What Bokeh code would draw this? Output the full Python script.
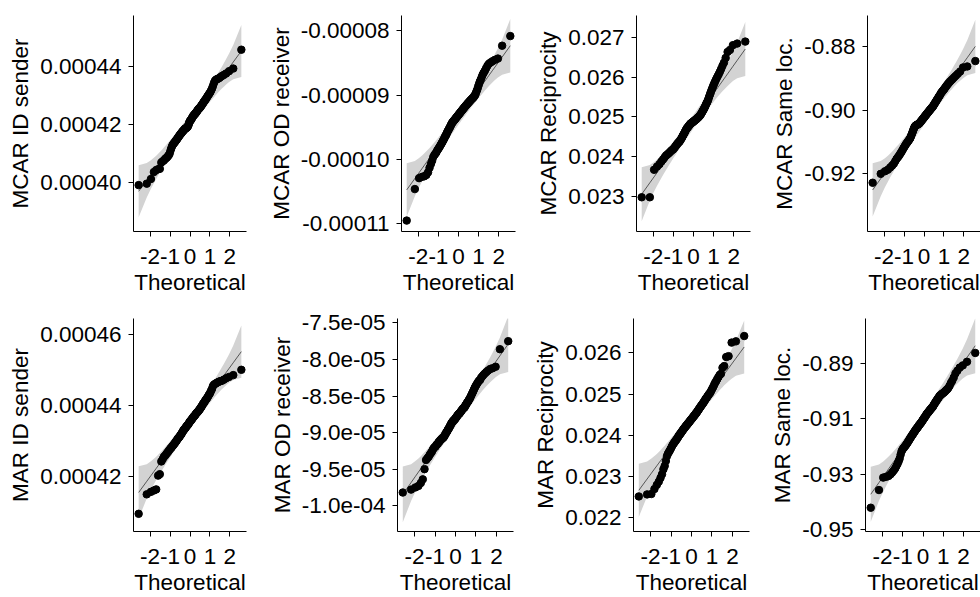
from statistics import NormalDist
import numpy as np
from bokeh.plotting import figure
from bokeh.layouts import row, column
from bokeh.models import Range1d, FixedTicker, CustomJSTickFormatter
from bokeh.embed import file_html
from bokeh.resources import INLINE

# ---------------- data (sorted sample values) ----------------
# MCAR ID sender, units of 1e-6
mcar_id_sender = [
    399.0, 399.5, 401.1, 403.5, 404.2, 404.5, 404.6, 406.8, 407.2, 407.5,
    408.0, 408.3, 408.6, 409.0, 409.4, 410.0, 411.0, 411.8, 412.5, 413.0,
    413.3, 413.6, 413.9, 414.2, 414.5, 414.8, 415.1, 415.4, 415.7, 416.0,
    416.3, 416.5, 416.8, 417.0, 417.3, 417.5, 417.7, 417.9, 418.1, 418.3,
    418.5, 418.6, 418.7, 418.8, 419.0, 419.2, 419.5, 420.0, 420.6, 421.0,
    421.2, 421.4, 421.7, 422.0, 422.3, 422.6, 422.9, 423.1, 423.3, 423.5,
    423.7, 423.9, 424.2, 424.4, 424.7, 425.0, 425.2, 425.4, 425.6, 425.8,
    426.1, 426.4, 426.7, 427.0, 427.3, 427.7, 428.0, 428.3, 428.6, 429.0,
    429.4, 429.8, 430.2, 430.6, 431.0, 431.6, 432.3, 433.2, 434.2, 435.0,
    435.4, 435.6, 435.8, 436.2, 436.6, 437.0, 437.5, 438.3, 439.2, 445.7]
# MCAR OD receiver, units of 1e-6
mcar_od_receiver = [
    -109.5, -104.6, -102.9, -102.7, -102.6, -102.4, -102.0, -101.3, -100.7, -100.2,
    -99.6, -99.3, -99.1, -98.9, -98.6, -98.4, -98.2, -98.0, -97.8, -97.6,
    -97.4, -97.2, -97.0, -96.8, -96.6, -96.4, -96.2, -96.1, -95.8, -95.6,
    -95.5, -95.3, -95.1, -95.0, -94.8, -94.6, -94.5, -94.3, -94.2, -94.1,
    -94.0, -93.9, -93.8, -93.7, -93.6, -93.5, -93.4, -93.3, -93.2, -93.1,
    -93.0, -92.9, -92.8, -92.7, -92.6, -92.5, -92.4, -92.3, -92.2, -92.1,
    -92.0, -91.9, -91.8, -91.7, -91.6, -91.5, -91.4, -91.3, -91.2, -91.1,
    -91.0, -90.9, -90.8, -90.7, -90.6, -90.5, -90.4, -90.3, -90.1, -90.0,
    -89.7, -89.4, -89.1, -88.7, -88.3, -87.9, -87.6, -87.2, -86.8, -86.5,
    -86.2, -85.8, -85.4, -85.1, -84.9, -84.7, -84.5, -84.3, -82.3, -80.8]
# MCAR Reciprocity, units of 1e-4
mcar_reciprocity = [
    229.8, 229.8, 236.7, 237.5, 238.1, 238.75, 239.3, 239.8, 240.25, 240.5,
    240.75, 241.0, 241.25, 241.5, 241.7, 241.8, 242.1, 242.3, 242.6, 242.8,
    243.1, 243.3, 243.5, 243.7, 243.8, 244.1, 244.3, 244.6, 244.8, 245.2,
    245.4, 245.7, 245.9, 246.2, 246.5, 246.75, 247.0, 247.2, 247.3, 247.5,
    247.7, 247.8, 248.0, 248.2, 248.3, 248.4, 248.5, 248.6, 248.7, 248.75,
    248.9, 249.0, 249.1, 249.2, 249.3, 249.4, 249.5, 249.7, 249.75, 249.9,
    250.0, 250.2, 250.3, 250.5, 250.7, 250.9, 251.2, 251.4, 251.7, 251.9,
    252.2, 252.5, 252.8, 253.2, 253.5, 253.8, 254.2, 254.7, 255.2, 255.7,
    256.2, 256.7, 257.2, 257.7, 258.2, 258.7, 259.2, 259.7, 260.2, 260.7,
    261.3, 262.0, 262.8, 263.6, 264.8, 266.3, 266.8, 268.0, 268.4, 268.9]
# MCAR Same loc., units of 1e-3
mcar_same_loc = [
    -922.8, -920.0, -919.2, -918.7, -918.0, -917.4, -916.8, -916.0, -915.3, -914.8,
    -914.3, -913.8, -913.3, -912.8, -912.3, -911.8, -911.4, -911.0, -910.6, -910.3,
    -910.0, -909.7, -909.4, -909.1, -908.8, -908.3, -907.8, -907.3, -906.8, -906.3,
    -905.8, -905.4, -905.1, -904.9, -904.8, -904.7, -904.6, -904.5, -904.4, -904.3,
    -904.2, -904.0, -903.8, -903.6, -903.4, -903.2, -903.0, -902.8, -902.6, -902.4,
    -902.2, -902.0, -901.8, -901.6, -901.4, -901.2, -901.0, -900.8, -900.6, -900.4,
    -900.2, -900.0, -899.8, -899.6, -899.4, -899.2, -899.0, -898.8, -898.5, -898.2,
    -897.9, -897.6, -897.3, -897.0, -896.7, -896.4, -896.0, -895.7, -895.4, -895.0,
    -894.6, -894.3, -894.0, -893.7, -893.4, -893.0, -892.6, -892.2, -891.8, -891.4,
    -891.0, -890.6, -890.2, -889.7, -889.2, -888.6, -887.9, -886.6, -886.3, -884.6]
# MAR ID sender, units of 1e-6
mar_id_sender = [
    409.4, 414.9, 415.6, 416.0, 416.3, 420.2, 420.6, 424.2, 424.8, 425.5,
    425.8, 426.2, 426.6, 426.9, 427.3, 427.6, 427.9, 428.1, 428.4, 428.7,
    428.9, 429.2, 429.4, 429.7, 429.9, 430.2, 430.5, 430.7, 430.9, 431.1,
    431.3, 431.6, 431.8, 432.0, 432.3, 432.6, 432.8, 433.1, 433.2, 433.4,
    433.6, 433.8, 434.0, 434.2, 434.4, 434.5, 434.7, 434.9, 435.2, 435.4,
    435.6, 435.7, 435.9, 436.1, 436.3, 436.5, 436.7, 436.9, 437.0, 437.2,
    437.4, 437.6, 437.8, 438.0, 438.1, 438.3, 438.5, 438.7, 438.9, 439.1,
    439.4, 439.6, 439.9, 440.2, 440.5, 440.7, 441.0, 441.3, 441.6, 441.9,
    442.1, 442.5, 442.9, 443.2, 443.6, 444.2, 444.7, 445.5, 445.9, 446.1,
    446.3, 446.5, 446.7, 446.9, 447.0, 447.3, 447.7, 448.1, 448.6, 450.1]
# MAR OD receiver, units of 1e-6
mar_od_receiver = [
    -98.2, -97.8, -97.5, -97.3, -96.9, -96.4, -95.0, -93.75, -93.5, -93.3,
    -93.0, -92.8, -92.6, -92.3, -92.1, -92.0, -91.9, -91.7, -91.6, -91.5,
    -91.3, -91.25, -91.1, -91.0, -90.9, -90.85, -90.75, -90.7, -90.6, -90.45,
    -90.3, -90.2, -90.0, -89.9, -89.8, -89.6, -89.5, -89.4, -89.2, -89.1,
    -89.0, -88.8, -88.7, -88.6, -88.5, -88.4, -88.35, -88.25, -88.2, -88.1,
    -88.0, -87.9, -87.8, -87.7, -87.6, -87.5, -87.45, -87.4, -87.3, -87.2,
    -87.1, -87.0, -86.9, -86.8, -86.7, -86.65, -86.6, -86.5, -86.3, -86.2,
    -86.1, -85.9, -85.8, -85.7, -85.5, -85.4, -85.2, -85.0, -84.8, -84.6,
    -84.4, -84.15, -83.9, -83.7, -83.5, -83.3, -83.1, -82.9, -82.8, -82.5,
    -82.3, -82.1, -81.9, -81.7, -81.5, -81.3, -81.2, -81.0, -78.6, -77.5]
# MAR Reciprocity, units of 1e-4
mar_reciprocity = [
    225.1, 225.6, 225.7, 226.9, 227.9, 228.7, 229.6, 230.5, 231.7, 232.5,
    233.7, 234.9, 235.5, 235.9, 236.3, 236.7, 237.1, 237.5, 237.8, 238.1,
    238.3, 238.6, 238.8, 239.0, 239.3, 239.5, 239.8, 240.0, 240.2, 240.4,
    240.6, 240.8, 241.0, 241.2, 241.4, 241.6, 241.75, 241.9, 242.1, 242.25,
    242.4, 242.55, 242.7, 242.9, 243.0, 243.2, 243.35, 243.5, 243.7, 243.8,
    244.0, 244.1, 244.3, 244.5, 244.6, 244.8, 244.9, 245.1, 245.3, 245.4,
    245.6, 245.8, 246.0, 246.2, 246.4, 246.6, 246.8, 247.0, 247.2, 247.4,
    247.6, 247.8, 248.0, 248.3, 248.5, 248.8, 249.0, 249.2, 249.5, 249.7,
    250.0, 250.2, 250.5, 250.9, 251.3, 251.7, 252.2, 252.7, 253.1, 253.6,
    254.1, 254.6, 254.9, 256.4, 256.8, 259.0, 259.2, 262.5, 262.8, 264.1]
# MAR Same loc., units of 1e-3
mar_same_loc = [
    -942.2, -935.8, -931.3, -931.0, -930.7, -930.1, -929.4, -928.7, -928.0, -927.1,
    -926.3, -925.4, -924.4, -923.0, -921.8, -921.2, -920.7, -920.4, -920.0, -919.7,
    -919.3, -918.9, -918.6, -918.1, -917.8, -917.4, -917.0, -916.7, -916.3, -916.0,
    -915.7, -915.4, -915.0, -914.8, -914.4, -914.2, -913.8, -913.6, -913.4, -913.1,
    -912.9, -912.5, -912.3, -912.1, -911.8, -911.6, -911.4, -911.1, -910.8, -910.5,
    -910.3, -909.9, -909.7, -909.5, -909.1, -908.9, -908.5, -908.3, -908.0, -907.8,
    -907.6, -907.3, -907.1, -906.8, -906.6, -906.4, -906.1, -905.9, -905.7, -905.3,
    -904.9, -904.6, -904.2, -903.9, -903.5, -903.2, -902.8, -902.5, -902.1, -901.7,
    -901.5, -901.3, -901.0, -900.8, -900.6, -900.3, -900.0, -899.6, -899.3, -898.8,
    -898.1, -897.1, -896.3, -895.1, -893.6, -892.6, -891.5, -890.7, -889.4, -886.2]

y_labels = ["MCAR ID sender", "MCAR OD receiver", "MCAR Reciprocity", "MCAR Same loc.",
            "MAR ID sender", "MAR OD receiver", "MAR Reciprocity", "MAR Same loc."]
series = [mcar_id_sender, mcar_od_receiver, mcar_reciprocity, mcar_same_loc,
          mar_id_sender, mar_od_receiver, mar_reciprocity, mar_same_loc]
scales = [1e-6, 1e-6, 1e-4, 1e-3, 1e-6, 1e-6, 1e-4, 1e-3]

y_ticks = [
    [0.00040, 0.00042, 0.00044],
    [-0.00011, -0.00010, -0.00009, -0.00008],
    [0.023, 0.024, 0.025, 0.026, 0.027],
    [-0.92, -0.90, -0.88],
    [0.00042, 0.00044, 0.00046],
    [-1.0e-4, -9.5e-5, -9.0e-5, -8.5e-5, -8.0e-5, -7.5e-5],
    [0.022, 0.023, 0.024, 0.025, 0.026],
    [-0.95, -0.93, -0.91, -0.89],
]
y_tick_labels = [
    ["0.00040", "0.00042", "0.00044"],
    ["-0.00011", "-0.00010", "-0.00009", "-0.00008"],
    ["0.023", "0.024", "0.025", "0.026", "0.027"],
    ["-0.92", "-0.90", "-0.88"],
    ["0.00042", "0.00044", "0.00046"],
    ["-1.0e-04", "-9.5e-05", "-9.0e-05", "-8.5e-05", "-8.0e-05", "-7.5e-05"],
    ["0.022", "0.023", "0.024", "0.025", "0.026"],
    ["-0.95", "-0.93", "-0.91", "-0.89"],
]
y_ranges = [
    (0.000383, 0.0004575),
    (-0.0001112, -0.0000776),
    (0.02212, 0.027545),
    (-0.9381, -0.8703),
    (0.0004044, 0.0004646),
    (-1.0353e-4, -7.44e-5),
    (0.021658, 0.026836),
    (-0.9508, -0.87374),
]
x_ticks = [-2, -1, 0, 1, 2]
x_tick_labels = ["-2", "-1", "0", "1", "2"]
x_label = "Theoretical"

# ---------------- layout geometry (left border, frame width, right border) ----------------
row1_geom = [(133, 113, 12), (143, 114, 5), (116, 114, 3), (114, 113, 0)]
row2_geom = [(133, 113, 12), (139, 116, 7), (113, 116, 4), (112, 115, 0)]
row1_v = (15, 216, 69)
row2_v = (18, 216, 63)

FONT = "Liberation Sans"
FSIZE = "22.5px"
ND = NormalDist()

LOOKUP = """
let b = 0;
for (let i = 0; i < t.length; i++) {
    if (Math.abs(t[i] - tick) < Math.abs(t[b] - tick)) b = i;
}
return l[b];
"""


def qq_panel(k, geom, vgeom):
    left, fw, right = geom
    top, fh, bottom = vgeom
    y = np.sort(np.asarray(series[k], dtype=float) * scales[k])
    n = len(y)
    P = (np.arange(1, n + 1) - 0.5) / n
    z = np.array([ND.inv_cdf(p) for p in P])
    q1, q3 = np.quantile(y, [0.25, 0.75])
    z1, z3 = ND.inv_cdf(0.25), ND.inv_cdf(0.75)
    slope = (q3 - q1) / (z3 - z1)
    intercept = q1 - slope * z1
    fit = intercept + slope * z
    zz = ND.inv_cdf(0.975)
    se = slope / np.array([ND.pdf(v) for v in z]) * np.sqrt(P * (1 - P) / n)
    upper = fit + zz * se
    lower = fit - zz * se

    p = figure(width=left + fw + right, height=top + fh + bottom,
               x_range=Range1d(-2.834, 2.834), y_range=Range1d(*y_ranges[k]),
               output_backend="svg", toolbar_location=None, title=None,
               min_border_left=left, min_border_right=right,
               min_border_top=top, min_border_bottom=bottom)
    p.outline_line_color = None
    p.background_fill_color = "white"
    p.border_fill_color = "white"
    p.xgrid.visible = False
    p.ygrid.visible = False

    p.varea(x=z, y1=lower, y2=upper, fill_color="#d3d3d3", fill_alpha=1.0)
    p.line(z, fit, line_color="black", line_width=0.6)
    p.scatter(z, y, size=7.5, fill_color="black", line_color="black")

    p.xaxis.ticker = FixedTicker(ticks=x_ticks, minor_ticks=[])
    p.yaxis.ticker = FixedTicker(ticks=y_ticks[k], minor_ticks=[])
    p.xaxis.formatter = CustomJSTickFormatter(args=dict(t=x_ticks, l=x_tick_labels), code=LOOKUP)
    p.yaxis.formatter = CustomJSTickFormatter(args=dict(t=y_ticks[k], l=y_tick_labels[k]), code=LOOKUP)
    p.xaxis.axis_label = x_label
    p.yaxis.axis_label = y_labels[k]
    for ax in (p.xaxis[0], p.yaxis[0]):
        ax.axis_line_color = "black"
        ax.axis_line_width = 1
        ax.major_tick_line_color = "black"
        ax.major_tick_line_width = 1
        ax.major_tick_out = 5
        ax.major_tick_in = 0
        ax.minor_tick_line_color = None
        ax.major_label_text_font = FONT
        ax.major_label_text_font_size = FSIZE
        ax.major_label_text_color = "black"
        ax.axis_label_text_font = FONT
        ax.axis_label_text_font_size = FSIZE
        ax.axis_label_text_font_style = "normal"
        ax.axis_label_text_color = "black"
    p.xaxis.major_label_standoff = 12
    p.xaxis.axis_label_standoff = 3
    p.yaxis.major_label_standoff = 7
    p.yaxis.axis_label_standoff = 4
    return p


row1 = row([qq_panel(i, row1_geom[i], row1_v) for i in range(4)], spacing=0)
row2 = row([qq_panel(4 + i, row2_geom[i], row2_v) for i in range(4)], spacing=0)
layout = column([row1, row2], spacing=0)

open("out.html", "w").write(file_html(layout, INLINE))
